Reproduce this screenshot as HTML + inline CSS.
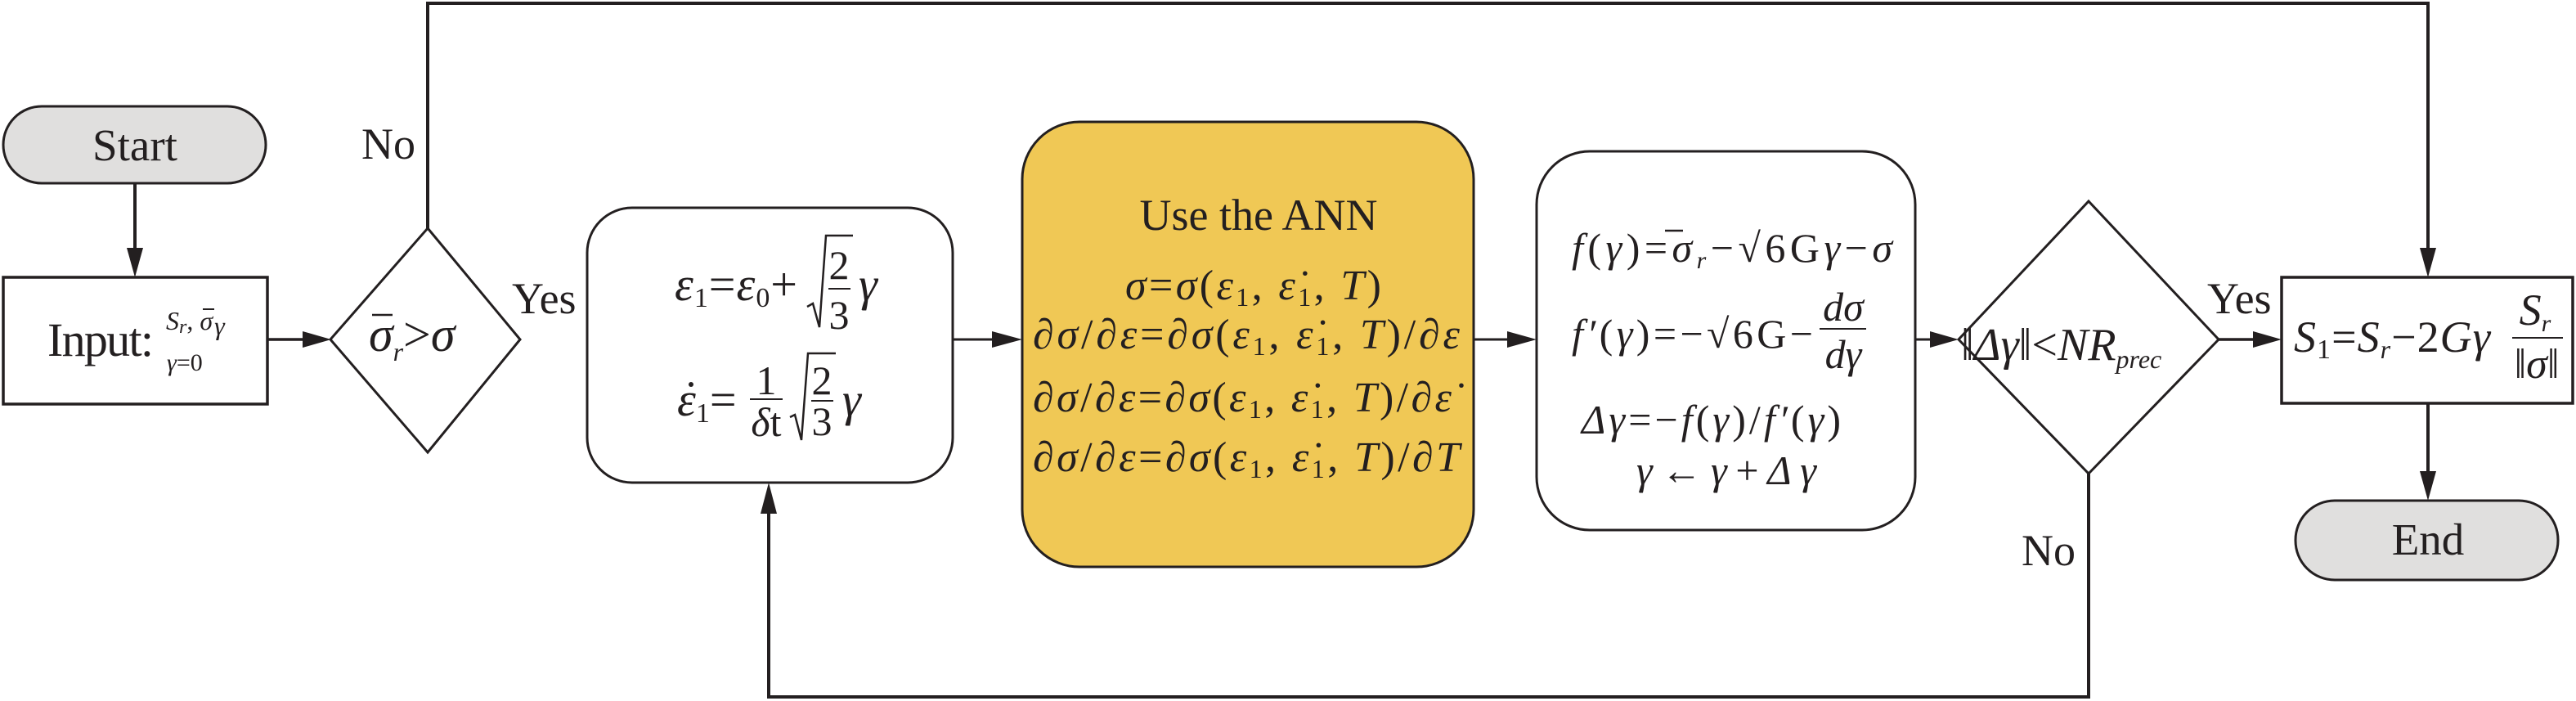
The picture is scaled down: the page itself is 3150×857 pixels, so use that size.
<!DOCTYPE html>
<html><head><meta charset="utf-8"><style>
html,body{margin:0;padding:0;background:#fff;}
svg{display:block;}
text{font-family:"Liberation Serif",serif;fill:#231f20;}
.i{font-style:italic;}
</style></head><body>
<svg width="3150" height="857" viewBox="0 0 3150 857" xmlns="http://www.w3.org/2000/svg">
<g stroke="#231f20" fill="none" stroke-width="4">
<line x1="165" y1="224" x2="165" y2="305"/>
<line x1="327" y1="415" x2="375" y2="415" stroke-width="3.5"/>
<polyline points="523,279 523,4 2969,4 2969,305"/>
<line x1="1165" y1="415" x2="1215" y2="415" stroke-width="3"/>
<line x1="1802" y1="415" x2="1845" y2="415" stroke-width="3"/>
<line x1="2342" y1="415" x2="2362" y2="415" stroke-width="3"/>
<line x1="2713" y1="415" x2="2757" y2="415" stroke-width="3.5"/>
<line x1="2969" y1="493" x2="2969" y2="578"/>
<polyline points="2554,579 2554,852 940,852 940,628"/>
</g>
<g fill="#231f20">
<polygon points="155,303 175,303 165,339"/>
<polygon points="370,405 370,425 405,415"/>
<polygon points="1213,405 1213,425 1250,415"/>
<polygon points="1843,405 1843,425 1879,415"/>
<polygon points="2360,405 2360,425 2395,415"/>
<polygon points="2755,405 2755,425 2790,415"/>
<polygon points="2959,303 2979,303 2969,339"/>
<polygon points="2959,576 2979,576 2969,612"/>
<polygon points="930,628 950,628 940,590"/>
</g>
<rect x="4" y="130" width="321" height="94" rx="47" fill="#e0dfde" stroke="#231f20" stroke-width="3"/>
<rect x="4" y="339" width="323" height="155" fill="#fff" stroke="#231f20" stroke-width="3.5"/>
<polygon points="523,279 636,415 523,553 404,415" fill="#fff" stroke="#231f20" stroke-width="3"/>
<rect x="718" y="254" width="447" height="336" rx="55" fill="#fff" stroke="#231f20" stroke-width="3"/>
<rect x="1250" y="149" width="552" height="544" rx="70" fill="#f0c855" stroke="#231f20" stroke-width="3"/>
<rect x="1879" y="185" width="463" height="463" rx="65" fill="#fff" stroke="#231f20" stroke-width="3"/>
<polygon points="2554,246 2713,415 2554,579 2395,415" fill="#fff" stroke="#231f20" stroke-width="3"/>
<rect x="2790" y="339" width="356" height="154" fill="#fff" stroke="#231f20" stroke-width="3.5"/>
<rect x="2807" y="612" width="321" height="97" rx="48" fill="#e0dfde" stroke="#231f20" stroke-width="3"/>

<text x="165" y="196" font-size="55" text-anchor="middle">Start</text>
<text x="2969" y="678" font-size="55" text-anchor="middle">End</text>
<text x="442" y="194" font-size="54">No</text>
<text x="626" y="383" font-size="54">Yes</text>
<text x="2472" y="691" font-size="54">No</text>
<text x="2699" y="383" font-size="54">Yes</text>

<text x="58" y="435" font-size="58" textLength="130" lengthAdjust="spacing">Input:</text>
<text x="203" y="403" font-size="32" class="i">S<tspan font-size="24" dy="4">r</tspan><tspan dy="-4" font-style="normal">, </tspan>σ<tspan dx="2" dy="6">γ</tspan></text>
<line x1="248" y1="378" x2="262" y2="378" stroke="#231f20" stroke-width="2"/>
<text x="204" y="453" font-size="30" class="i">γ<tspan font-style="normal">=0</tspan></text>

<text x="451" y="429" font-size="60" class="i">σ<tspan font-size="32" dy="12">r</tspan><tspan dy="-12" font-style="normal">&gt;</tspan>σ</text>
<line x1="455" y1="385" x2="480" y2="385" stroke="#231f20" stroke-width="2.5"/>

<text x="825" y="367" font-size="58" class="i" textLength="150" lengthAdjust="spacing">ε<tspan font-size="34" font-style="normal" dy="8">1</tspan><tspan dy="-8" font-style="normal">=</tspan>ε<tspan font-size="34" font-style="normal" dy="8">0</tspan><tspan dy="-8" font-style="normal">+</tspan></text>
<polyline points="987,375 994,371 1002,400 1010,288 1043,288" fill="none" stroke="#231f20" stroke-width="2.5"/>
<text x="1026" y="341" font-size="50" text-anchor="middle">2</text>
<line x1="1013" y1="353" x2="1040" y2="353" stroke="#231f20" stroke-width="2"/>
<text x="1026" y="402" font-size="50" text-anchor="middle">3</text>
<text x="1050" y="367" font-size="58" class="i">γ</text>

<text x="828" y="508" font-size="58" class="i">ε<tspan font-size="34" font-style="normal" dy="8">1</tspan><tspan dy="-8" font-style="normal">=</tspan></text>
<circle cx="845" cy="470" r="3" fill="#231f20"/>
<text x="937" y="482" font-size="50" text-anchor="middle">1</text>
<line x1="917" y1="488" x2="957" y2="488" stroke="#231f20" stroke-width="2"/>
<text x="937" y="533" font-size="50" text-anchor="middle"><tspan class="i">δ</tspan>t</text>
<polyline points="966,510 972,507 980,538 988,432 1022,432" fill="none" stroke="#231f20" stroke-width="2.5"/>
<text x="1005" y="482" font-size="50" text-anchor="middle">2</text>
<line x1="992" y1="490" x2="1019" y2="490" stroke="#231f20" stroke-width="2"/>
<text x="1005" y="532" font-size="50" text-anchor="middle">3</text>
<text x="1030" y="508" font-size="58" class="i">γ</text>

<text x="1539" y="281" font-size="54" text-anchor="middle">Use the ANN</text>
<text x="1376" y="366" font-size="52" class="i" textLength="313" lengthAdjust="spacing">σ<tspan font-style="normal">=</tspan>σ<tspan font-style="normal">(</tspan>ε<tspan font-size="32" font-style="normal" dy="8">1</tspan><tspan dy="-8" font-style="normal">, </tspan>ε̇<tspan font-size="32" font-style="normal" dy="8">1</tspan><tspan dy="-8" font-style="normal">, </tspan>T<tspan font-style="normal">)</tspan></text>
<text x="1263" y="426" font-size="52" class="i" textLength="522" lengthAdjust="spacing">∂σ<tspan font-style="normal">/</tspan>∂ε<tspan font-style="normal">=</tspan>∂σ<tspan font-style="normal">(</tspan>ε<tspan font-size="32" font-style="normal" dy="8">1</tspan><tspan dy="-8" font-style="normal">, </tspan>ε̇<tspan font-size="32" font-style="normal" dy="8">1</tspan><tspan dy="-8" font-style="normal">, </tspan>T<tspan font-style="normal">)/</tspan>∂ε</text>
<text x="1263" y="503" font-size="52" class="i" textLength="512" lengthAdjust="spacing">∂σ<tspan font-style="normal">/</tspan>∂ε<tspan font-style="normal">=</tspan>∂σ<tspan font-style="normal">(</tspan>ε<tspan font-size="32" font-style="normal" dy="8">1</tspan><tspan dy="-8" font-style="normal">, </tspan>ε̇<tspan font-size="32" font-style="normal" dy="8">1</tspan><tspan dy="-8" font-style="normal">, </tspan>T<tspan font-style="normal">)/</tspan>∂ε̇</text>
<text x="1263" y="576" font-size="52" class="i" textLength="522" lengthAdjust="spacing">∂σ<tspan font-style="normal">/</tspan>∂ε<tspan font-style="normal">=</tspan>∂σ<tspan font-style="normal">(</tspan>ε<tspan font-size="32" font-style="normal" dy="8">1</tspan><tspan dy="-8" font-style="normal">, </tspan>ε̇<tspan font-size="32" font-style="normal" dy="8">1</tspan><tspan dy="-8" font-style="normal">, </tspan>T<tspan font-style="normal">)/</tspan>∂T</text>

<text x="1922" y="320" font-size="50" class="i" textLength="392" lengthAdjust="spacing">f<tspan font-style="normal">(</tspan>γ<tspan font-style="normal">)=</tspan>σ<tspan font-size="30" dy="8">r</tspan><tspan dy="-8" font-style="normal">−√6G</tspan>γ<tspan font-style="normal">−</tspan>σ</text>
<line x1="2036" y1="282" x2="2058" y2="282" stroke="#231f20" stroke-width="2.5"/>
<text x="1922" y="425" font-size="50" class="i" textLength="295" lengthAdjust="spacing">f′<tspan font-style="normal">(</tspan>γ<tspan font-style="normal">)=−√6G−</tspan></text>
<text x="2254" y="392" font-size="50" text-anchor="middle" class="i">dσ</text>
<line x1="2225" y1="402" x2="2282" y2="402" stroke="#231f20" stroke-width="2"/>
<text x="2254" y="450" font-size="50" text-anchor="middle" class="i">dγ</text>
<text x="1934" y="530" font-size="50" class="i" textLength="317" lengthAdjust="spacing">Δγ<tspan font-style="normal">=−</tspan>f<tspan font-style="normal">(</tspan>γ<tspan font-style="normal">)/</tspan>f′<tspan font-style="normal">(</tspan>γ<tspan font-style="normal">)</tspan></text>
<text x="2001" y="592" font-size="50" class="i" textLength="220" lengthAdjust="spacing">γ<tspan font-style="normal">←</tspan>γ<tspan font-style="normal">+</tspan>Δγ</text>

<text x="2398" y="440" font-size="56" class="i"><tspan font-style="normal">‖</tspan>Δγ<tspan font-style="normal">‖&lt;</tspan>NR<tspan font-size="32" dy="10">prec</tspan></text>

<text x="2805" y="430" font-size="54" class="i" textLength="240" lengthAdjust="spacing">S<tspan font-size="34" font-style="normal" dy="8">1</tspan><tspan dy="-8" font-style="normal">=</tspan>S<tspan font-size="32" dy="8">r</tspan><tspan dy="-8" font-style="normal">−2</tspan>Gγ</text>
<text x="3100" y="397" font-size="54" text-anchor="middle" class="i">S<tspan font-size="30" dy="8">r</tspan></text>
<line x1="3072" y1="413" x2="3134" y2="413" stroke="#231f20" stroke-width="2"/>
<text x="3102" y="462" font-size="52" text-anchor="middle">‖<tspan class="i">σ</tspan>‖</text>
</svg>
</body></html>
